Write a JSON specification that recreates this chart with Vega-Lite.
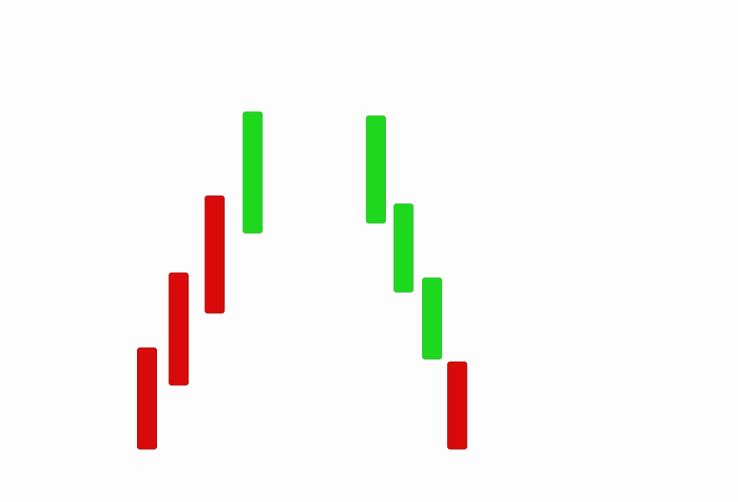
{
  "$schema": "https://vega.github.io/schema/vega-lite/v6.json",
  "description": "Candle bars rising in red then falling in green, no axes.",
  "autosize": {"type": "fit", "contains": "padding"},
  "width": 738,
  "height": 502,
  "padding": 0,
  "background": "#fdfdfd",
  "config": {"view": {"stroke": null}},
  "data": {
    "values": [
      {"t": 144, "low": 53, "high": 154, "kind": "red"},
      {"t": 176, "low": 117, "high": 229, "kind": "red"},
      {"t": 212.5, "low": 189, "high": 306, "kind": "red"},
      {"t": 251, "low": 269, "high": 390, "kind": "green"},
      {"t": 376, "low": 279, "high": 386, "kind": "green"},
      {"t": 404, "low": 210, "high": 298, "kind": "green"},
      {"t": 433, "low": 143, "high": 224, "kind": "green"},
      {"t": 458.5, "low": 53, "high": 140, "kind": "red"}
    ]
  },
  "mark": {"type": "bar", "size": 19, "cornerRadius": 2, "strokeWidth": 1, "opacity": 1},
  "encoding": {
    "x": {
      "field": "t",
      "type": "quantitative",
      "scale": {"domain": [0, 738], "nice": false, "zero": false},
      "axis": null
    },
    "y": {
      "field": "low",
      "type": "quantitative",
      "scale": {"domain": [0, 502], "nice": false},
      "axis": null
    },
    "y2": {"field": "high"},
    "color": {
      "field": "kind",
      "type": "nominal",
      "scale": {"domain": ["red", "green"], "range": ["#d80a0a", "#1ed81e"]},
      "legend": null
    },
    "stroke": {
      "field": "kind",
      "type": "nominal",
      "scale": {"domain": ["red", "green"], "range": ["#b20808", "#2cc02c"]},
      "legend": null
    }
  }
}
